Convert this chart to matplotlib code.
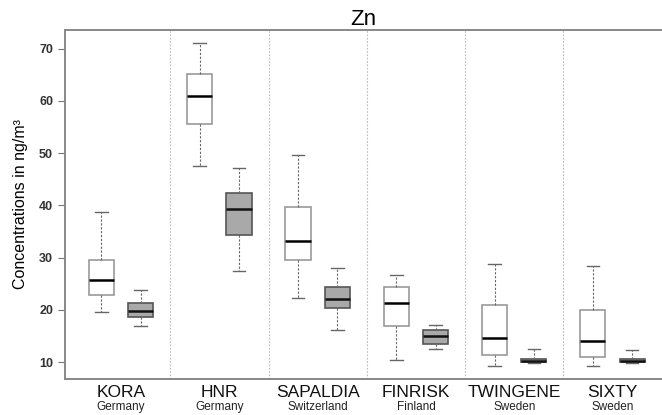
import numpy as np
import matplotlib.pyplot as plt

plt.rcParams['font.family'] = ['Liberation Sans', 'DejaVu Sans']

studies = ['KORA', 'HNR', 'SAPALDIA', 'FINRISK', 'TWINGENE', 'SIXTY']
countries = ['Germany', 'Germany', 'Switzerland', 'Finland', 'Sweden', 'Sweden']

# white boxes (first series): whisker low, q1, median, q3, whisker high
white_lo = [19.6, 47.6, 22.3, 10.4, 9.3, 9.3]
white_q1 = [22.9, 55.6, 29.5, 16.9, 11.3, 11.05]
white_med = [25.8, 60.9, 33.2, 21.4, 14.7, 14.0]
white_q3 = [29.5, 65.15, 39.7, 24.4, 20.9, 19.9]
white_hi = [38.7, 71.15, 49.6, 26.65, 28.75, 28.5]

# gray boxes (second series)
gray_lo = [17.0, 27.5, 16.2, 12.5, 9.9, 9.9]
gray_q1 = [18.6, 34.4, 20.4, 13.4, 10.0, 10.0]
gray_med = [19.8, 39.35, 22.1, 15.1, 10.3, 10.3]
gray_q3 = [21.3, 42.35, 24.4, 16.2, 10.7, 10.6]
gray_hi = [23.9, 47.07, 28.05, 17.1, 12.5, 12.3]


def make_stats(lo, q1, med, q3, hi):
    return [dict(whislo=a, q1=b, med=c, q3=d, whishi=e, fliers=[])
            for a, b, c, d, e in zip(lo, q1, med, q3, hi)]


fig = plt.figure(figsize=(6.62, 4.15), dpi=100)
ax = fig.add_axes([0.098, 0.087, 0.902, 0.841])

centers = np.arange(len(studies)) * 2.5 + 0.5
pos_w = centers - 0.5
pos_g = centers + 0.5

wstyle = dict(linestyle=(0, (2, 1.5)), color='#666666', linewidth=0.8)
ax.bxp(make_stats(white_lo, white_q1, white_med, white_q3, white_hi),
       positions=pos_w, widths=0.64, patch_artist=True,
       boxprops=dict(facecolor='white', edgecolor='#999999', linewidth=1.2),
       medianprops=dict(color='black', linewidth=1.8),
       whiskerprops=wstyle,
       capprops=dict(color='#666666', linewidth=1.0),
       showfliers=False)
ax.bxp(make_stats(gray_lo, gray_q1, gray_med, gray_q3, gray_hi),
       positions=pos_g, widths=0.64, patch_artist=True,
       boxprops=dict(facecolor='#a9a9a9', edgecolor='#555555', linewidth=1.2),
       medianprops=dict(color='#111111', linewidth=1.8),
       whiskerprops=wstyle,
       capprops=dict(color='#666666', linewidth=1.0),
       showfliers=False)

for c in centers[:-1] + 1.25:
    ax.axvline(c, color='#bbbbbb', linestyle=(0, (1.5, 1.5)), linewidth=0.8)

ax.set_xlim(-0.93, 14.26)
ax.set_ylim(6.8, 73.6)
ax.set_yticks([10, 20, 30, 40, 50, 60, 70])
ax.set_xticks([])
ax.tick_params(axis='y', length=5, width=0.8, color='#777777',
               labelsize=9, labelcolor='#333333')
for lab in ax.get_yticklabels():
    lab.set_fontweight('bold')

for s in ['left', 'top', 'bottom']:
    ax.spines[s].set_color('#888888')
    ax.spines[s].set_linewidth(1.4)
ax.spines['right'].set_visible(False)

ax.set_title('Zn', fontsize=16, pad=3)
ax.set_ylabel('Concentrations in ng/m³', fontsize=11.5, labelpad=8)

trans = ax.get_xaxis_transform()
for c, name, country in zip(centers, studies, countries):
    ax.text(c, -0.052, name, transform=trans, ha='center', va='baseline',
            fontsize=12.5, color='#111111')
    ax.text(c, -0.089, country, transform=trans, ha='center', va='baseline',
            fontsize=8.5, color='#222222')

fig.savefig('out.png', dpi=100)
